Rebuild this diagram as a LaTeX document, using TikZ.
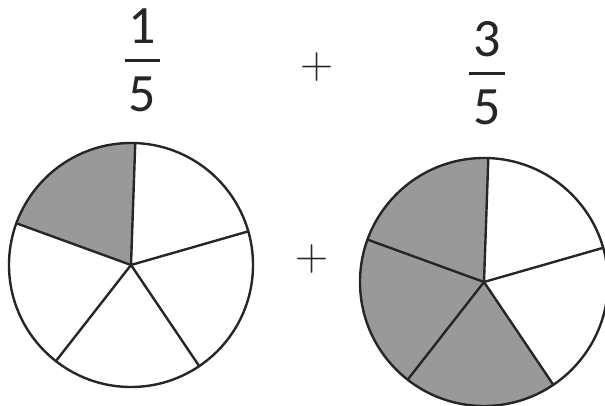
\documentclass[tikz,border=0pt]{standalone}
\usepackage{fontspec}
\newfontfamily\digitfont{Carlito}
\usetikzlibrary{positioning,calc}

\begin{document}
\begin{tikzpicture}[x=1pt, y=1pt,
    digit/.style={inner sep=0pt, outer sep=0pt, text=black!85, font=\digitfont\fontsize{54}{60}\selectfont},
    plussign/.style={inner sep=0pt, text=black!85, font=\fontsize{46}{50}\selectfont},
    fracbar/.style={line width=2.4pt, draw=black!85},
    spoke/.style={line width=2.4pt, draw=black!85, line cap=round},
    rim/.style={line width=2.4pt, draw=black!85},
    shade/.style={fill=black!40}]
    \useasboundingbox (0,0) rectangle (605,406);

    % fractions on top
    \node[digit] (num1) at (142,379.5) {1};
    \node[digit, below=33pt of num1] (den1) {5};
    \draw[fracbar] ($(num1.south)!0.5!(den1.north)$) ++(-17.5,0) -- ++(35,0);

    \node[plussign] (plustop) at (317,339) {+};

    \node[digit] (num2) at (487,366.5) {3};
    \node[digit, below=33pt of num2] (den2) {5};
    \draw[fracbar] ($(num2.south)!0.5!(den2.north)$) ++(-18,0) -- ++(36,0);

    % left pie: one fifth
    \coordinate (c1) at (131,141);
    \fill[shade] (c1) -- ++(88:122) arc (88:160:122) -- cycle;
    \foreach \a in {16,88,160,232,304}
        \draw[spoke] (c1) -- ++(\a:122);
    \draw[rim] (c1) circle (122);

    \node[plussign] (plusmid) at (312,147) {+};

    % right pie: three fifths
    \coordinate (c2) at (484,124);
    \fill[shade] (c2) -- ++(88:124) arc (88:304:124) -- cycle;
    \foreach \a in {16,88,160,232,304}
        \draw[spoke] (c2) -- ++(\a:124);
    \draw[rim] (c2) circle (124);
\end{tikzpicture}
\end{document}
